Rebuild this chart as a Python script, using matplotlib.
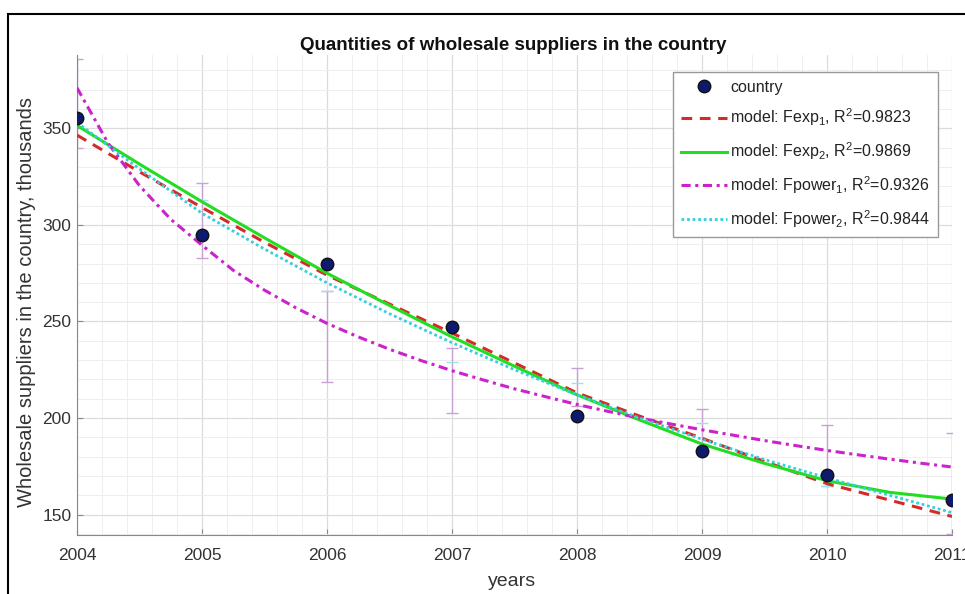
import matplotlib.pyplot as plt
from matplotlib.patches import Rectangle
from matplotlib.ticker import MultipleLocator
from matplotlib.lines import Line2D

plt.rcParams['font.family'] = ['Liberation Sans', 'DejaVu Sans']
plt.rcParams['mathtext.fontset'] = 'custom'
plt.rcParams['mathtext.rm'] = 'Liberation Sans'
plt.rcParams['mathtext.it'] = 'Liberation Sans:italic'
plt.rcParams['mathtext.default'] = 'regular'

# observed values (thousands)
years = [2004, 2005, 2006, 2007, 2008, 2009, 2010, 2011]
country = [355.4, 294.8, 279.5, 247.0, 201.0, 183.0, 170.5, 157.6]

# interval bars around the points
err_lo = [340, 283, 218.6, 202.6, 206, 183, 165, 140]
err_hi = [386, 321.8, 266, 236, 226, 204.6, 196.4, 192]
cyan_years = [2005, 2006, 2007, 2008, 2009, 2010]
cyan_marks = [313, 266, 229, 218, 197.5, 165]

# fitted curves
fit_years = [2004, 2004.5, 2005, 2005.5, 2006, 2006.5, 2007, 2007.5,
             2008, 2008.5, 2009, 2009.5, 2010, 2010.5, 2011]
fexp1 = [346.5, 327.5, 309, 291, 274, 259, 244, 228.5, 213, 201, 189.5, 177.5, 166, 157.5, 149]
fexp2 = [351.5, 331.5, 312, 293.3, 275, 258.3, 242, 226.8, 212, 199, 186.5, 176.5, 167.5, 161.5, 158]
fpower2 = [353, 329, 306, 287.5, 270, 254, 239, 225, 212, 200, 189, 178.5, 169, 160, 151]

pow_years = [2004, 2004.25, 2004.5, 2004.75, 2005, 2005.25, 2005.5, 2005.75,
             2006, 2006.25, 2006.5, 2006.75, 2007, 2007.25, 2007.5, 2007.75,
             2008, 2008.25, 2008.5, 2008.75, 2009, 2009.25, 2009.5, 2009.75,
             2010, 2010.25, 2010.5, 2010.75, 2011]
fpower1 = [371, 342.2, 320.3, 302.9, 289.5, 276.5, 266.2, 257.1,
           249, 242, 235.6, 229.8, 224.5, 219.7, 215.1, 211,
           207, 203.4, 200, 196.9, 193.9, 191.1, 188.3, 185.7,
           183.2, 180.9, 178.7, 176.6, 174.6]

labels = ['country',
          r'model: Fexp$_1$, R$^2$=0.9823',
          r'model: Fexp$_2$, R$^2$=0.9869',
          r'model: Fpower$_1$, R$^2$=0.9326',
          r'model: Fpower$_2$, R$^2$=0.9844']

fig = plt.figure(figsize=(9.65, 5.94), dpi=100)
ax = fig.add_axes([77/965, 59/594, 875/965, 480/594])

# interval bars
ax.vlines(years, err_lo, err_hi, color='#c9a0d2', lw=1, zorder=2)
ax.plot(years, err_lo, ls='none', marker='_', ms=9, color='#c9a0d2', zorder=2)
ax.plot(years, err_hi, ls='none', marker='_', ms=9, color='#c9a0d2', zorder=2)
ax.plot(cyan_years, cyan_marks, ls='none', marker='_', ms=9, color='#9fe3ea', zorder=2)

ax.plot(fit_years, fexp1, color='#d42a2a', ls=(0, (3.5, 2.5)), lw=2.2, zorder=3)
ax.plot(fit_years, fexp2, color='#22dd22', ls='-', lw=2.2, zorder=3)
ax.plot(pow_years, fpower1, color='#cc22cc', ls=(0, (3, 1.5, 1, 1.5)), lw=2.2, zorder=3)
ax.plot(fit_years, fpower2, color='#33d0dd', ls=(0, (1, 1)), lw=2.0, zorder=3)
ax.plot(years, country, ls='none', marker='o', ms=9, mfc='#0d1a6e', mec='#111111', zorder=5)

ax.set_xlim(2004, 2011)
ax.set_ylim(139.4, 388)
ax.set_xticks(years)
ax.set_xticklabels([str(y) for y in years])
ax.set_yticks([150, 200, 250, 300, 350])
ax.xaxis.set_minor_locator(MultipleLocator(0.2))
ax.yaxis.set_minor_locator(MultipleLocator(10))
ax.grid(which='major', color='#dcdcdc', lw=0.9)
ax.grid(which='minor', color='#eeeeee', lw=0.7)
ax.set_axisbelow(True)
ax.tick_params(which='major', direction='in', length=4, color='#888888',
               labelsize=12.5, labelcolor='#333333')
ax.tick_params(axis='x', pad=9)
ax.tick_params(axis='y', pad=4)
ax.tick_params(which='minor', length=0)
for side in ['top', 'right']:
    ax.spines[side].set_visible(False)
for side in ['left', 'bottom']:
    ax.spines[side].set_color('#888888')

handles = [Line2D([], [], ls='none', marker='o', ms=9, mfc='#0d1a6e', mec='#111111'),
           Line2D([], [], color='#d42a2a', ls=(0, (3.5, 2.5)), lw=2.2),
           Line2D([], [], color='#22dd22', lw=2.2),
           Line2D([], [], color='#cc22cc', ls=(0, (3, 1.5, 1, 1.5)), lw=2.2),
           Line2D([], [], color='#33d0dd', ls=(0, (1, 1)), lw=2.0)]
leg = ax.legend(handles, labels, loc='upper right', bbox_to_anchor=(0.984, 0.965),
                borderaxespad=0, fancybox=False, edgecolor='#999999', framealpha=1,
                fontsize=11.5, handlelength=2.9, labelspacing=0.75, handletextpad=0.2,
                borderpad=0.5)
leg.get_frame().set_linewidth(1.0)
for t in leg.get_texts():
    t.set_color('#222222')

fig.text(513/965, 1 - 46/594, 'Quantities of wholesale suppliers in the country',
         ha='center', va='center', fontsize=13.5, fontweight='bold', color='#111111')
fig.text(27/965, 1 - 302/594, 'Wholesale suppliers in the country, thousands',
         ha='center', va='center', rotation=90, fontsize=14.5, color='#333333')
fig.text(512/965, 1 - 582/594, 'years', ha='center', va='center',
         fontsize=14, color='#333333')

fig.patches.append(Rectangle((8/965, -0.05), 1.0, 0.05 + 580/594, transform=fig.transFigure,
                             fill=False, ec='black', lw=1.5))

fig.savefig('out.png', dpi=100)
